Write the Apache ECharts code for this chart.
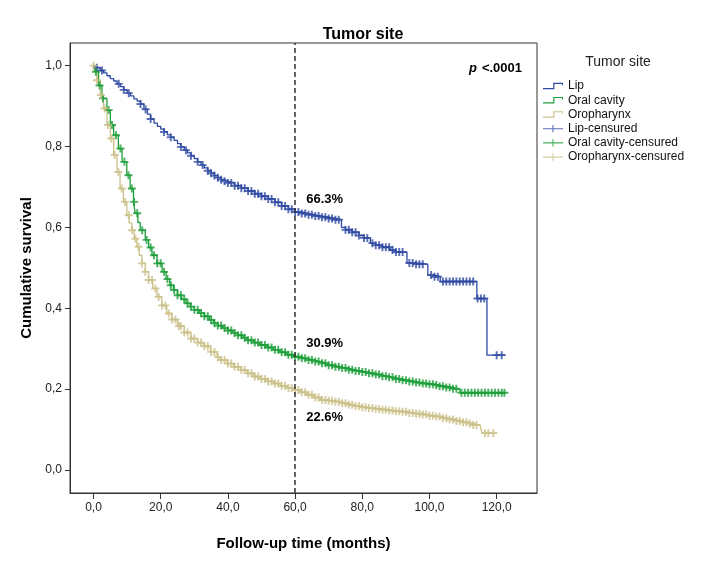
<!DOCTYPE html>
<html><head><meta charset="utf-8">
<script src="https://cdn.jsdelivr.net/npm/echarts@6/dist/echarts.min.js"></script>
<style>html,body{margin:0;padding:0;background:#fff}#c{width:708px;height:578px}</style>
</head><body><div id="c"></div>
<script>
// ---- data (months, cumulative survival) ----
const xTicks = [0, 20, 40, 60, 80, 100, 120];
const yTicks = [0, 0.2, 0.4, 0.6, 0.8, 1.0];

const lipCurve = [[0,1.0],[1,0.995],[2,0.988],[3,0.982],[4,0.975],[5,0.968],[6,0.962],[7,0.955],[8,0.948],[9,0.940],[10,0.932],[11,0.925],[12,0.918],[13,0.912],[14,0.905],[15,0.892],[16,0.880],[17,0.868],[18,0.858],[19,0.850],[20,0.843],[21,0.836],[22,0.829],[23,0.823],[24,0.815],[25,0.807],[26,0.799],[27,0.791],[28,0.784],[29,0.777],[30,0.770],[31,0.762],[32,0.754],[33,0.747],[34,0.740],[35,0.734],[36,0.728],[37,0.723],[38,0.718],[39,0.714],[40,0.710],[42,0.703],[44,0.697],[46,0.690],[48,0.683],[50,0.677],[52,0.670],[54,0.662],[56,0.653],[58,0.645],[60,0.638],[62,0.634],[64,0.631],[66,0.628],[68,0.625],[70,0.622],[72,0.619],[73.8,0.600],[75,0.594],[77,0.588],[79,0.580],[80.5,0.574],[82.4,0.561],[84,0.556],[86,0.551],[88.3,0.544],[90,0.539],[93.3,0.512],[96,0.509],[99.5,0.482],[101.5,0.478],[103.2,0.466],[114.1,0.424],[117.1,0.284],[122.5,0.284]];

const oralCurve = [[0,1.0],[0.5,0.985],[1.5,0.951],[2.5,0.919],[4,0.890],[5,0.853],[6,0.828],[7.4,0.795],[8.5,0.762],[9.9,0.729],[10.9,0.696],[11.9,0.663],[12.4,0.635],[13.2,0.612],[13.9,0.593],[15.4,0.569],[16.4,0.550],[17.4,0.531],[18.9,0.511],[20.4,0.490],[21.6,0.472],[22.7,0.457],[23.8,0.445],[25,0.432],[26.2,0.422],[27.5,0.412],[28.8,0.404],[30,0.396],[31.5,0.388],[33,0.380],[34.5,0.371],[35.7,0.363],[37,0.357],[38.5,0.351],[40,0.345],[41.5,0.339],[43,0.333],[44.5,0.327],[45.7,0.321],[47.5,0.315],[49.5,0.309],[51.5,0.303],[53.5,0.297],[55.5,0.291],[57.5,0.285],[59.5,0.280],[61.5,0.276],[63.5,0.272],[65.5,0.268],[67.5,0.264],[69.5,0.259],[71.4,0.255],[73.5,0.252],[75.5,0.248],[77.5,0.245],[79.5,0.242],[81.4,0.239],[83.5,0.236],[85.5,0.232],[87.5,0.229],[89.5,0.225],[91.3,0.222],[93.5,0.219],[95.5,0.216],[97.5,0.214],[99.5,0.212],[101.2,0.210],[103,0.207],[105,0.204],[107,0.201],[108.2,0.198],[109.1,0.191],[122.5,0.191]];

const oroCurve = [[0,1.0],[0.2,0.995],[1,0.964],[2,0.927],[3,0.894],[4,0.853],[5,0.820],[6,0.779],[7,0.737],[7.9,0.696],[8.9,0.663],[9.9,0.630],[10.6,0.611],[11.4,0.593],[12.1,0.572],[12.9,0.552],[13.6,0.531],[14.4,0.511],[15.4,0.490],[16.4,0.470],[17.6,0.449],[18.9,0.428],[20.3,0.407],[21.8,0.387],[23.3,0.372],[25,0.356],[27,0.340],[29,0.325],[31,0.315],[32.8,0.306],[34.8,0.292],[36.8,0.279],[37.7,0.272],[39.7,0.263],[41.7,0.255],[43.7,0.247],[45.7,0.239],[47.6,0.231],[49.6,0.225],[51.6,0.219],[53.6,0.214],[55.6,0.208],[57.6,0.203],[59.5,0.198],[61.5,0.192],[63.5,0.186],[65.5,0.179],[67.5,0.173],[69.5,0.171],[71.4,0.169],[73.5,0.165],[75.5,0.161],[77.5,0.158],[79.5,0.155],[81.4,0.153],[83.5,0.151],[85.5,0.149],[87.5,0.147],[89.5,0.145],[91.3,0.144],[93.5,0.141],[95.5,0.139],[97.5,0.137],[99.5,0.134],[101.2,0.132],[103.5,0.128],[105.5,0.125],[107.5,0.121],[109.5,0.118],[111.1,0.115],[113,0.111],[115.1,0.107],[115.6,0.091],[120.1,0.091]];

// censored times (months)
const lipCensored = [1,2.5,7.5,9,10.5,14,15.5,17,21,23,26,27.5,29,31,32.5,34,35,36,37,38,39,40,41,42,43,44,45,46,47,48,49,50,51,52,53,54,55,56,57,58,59,60,61,62,63,64,65,66,67,68,69,70,71,72,73,75,76,77,78,79,80.5,81.5,83,84,85,86,87,88,89,90,91,92,94,95,96,97,98,100.5,101.5,102.5,104,105,106,107,108,109,110,111,112,113,114.3,115.3,116.3,120,121.5];
const oralCensored = [0.7,1.8,2.8,4.5,5.5,6.7,8,9.2,10.4,11.4,12.1,13,14.5,15.8,17,18,19,20,21,22,23,24,25,26,27,28,29,30,31,32,33,34,35,36,37,38,39,40,41,42,43,44,45,46,47,48,49,50,51,52,53,54,55,56,57,58,59,60,61,62,63,64,65,66,67,68,69,70,71,72,73,74,75,76,77,78,79,80,81,82,83,84,85,86,87,88,89,90,91,92,93,94,95,96,97,98,99,100,101,102,103,104,105,106,107,108,109.5,110.5,111.5,112.5,113.5,114.5,115.5,116.5,117.5,118.5,119.5,120.5,121.5,122.3];
const oroCensored = [0,1,2.2,3.3,4.3,5.3,6.3,7.4,8.4,9.4,10.5,11.5,12.5,13.4,14.4,15.4,16.4,17.4,18.4,19.4,20.4,21.4,22.4,23.4,24.4,25.4,26,27,28,29,30,31,32,33,34,35,36,37,38,39,40,41,42,43,44,45,46,47,48,49,50,51,52,53,54,55,56,57,58,59,60,61,62,63,64,65,66,67,68,69,70,71,72,73,74,75,76,77,78,79,80,81,82,83,84,85,86,87,88,89,90,91,92,93,94,95,96,97,98,99,100,101,102,103,104,105,106,107,108,109,110,111,112,113,114,116.5,117.5,119];

const annotations = [
  { text: '66.3%', at: [63.3, 0.670] },
  { text: '30.9%', at: [63.3, 0.314] },
  { text: '22.6%', at: [63.3, 0.131] }
];

// ---- helpers ----
function survivalAt(curve, t) {
  let s = curve[0][1];
  for (const p of curve) { if (p[0] <= t + 1e-9) s = p[1]; else break; }
  return s;
}
const censorPts = (times, curve) => times.map(t => [t, survivalAt(curve, t)]);
const fmt = v => v.toFixed(1).replace('.', ',');

const FONT = "'Liberation Sans', Arial, sans-serif";
const C_LIP = '#2f4aa2', C_ORAL = '#1c9e38', C_ORO = '#cbc189';
const PLUS = 'path://M0,3.8H10V6.2H0Z M3.8,0H6.2V10H3.8Z';
const STEP_ICON = 'path://M0,6.3H10.5V0.8H20.5V3.4H19.5V2H11.7V7.5H0Z';
const CROSS_ICON = 'path://M0,3.5H22V4.7H0Z M10.4,0H11.6V8H10.4Z';

const chart = echarts.init(document.getElementById('c'), null, { renderer: 'canvas' });

function lineSeries(name, curve, color, extra) {
  return Object.assign({
    name, type: 'line', step: 'end', data: curve, showSymbol: false, symbol: 'none',
    lineStyle: { color, width: 1.3 }, itemStyle: { color }, z: 3, animation: false
  }, extra || {});
}
function censorSeries(name, pts, color) {
  return {
    name, type: 'scatter', data: pts, symbol: PLUS, symbolSize: 8,
    itemStyle: { color }, z: 4, animation: false
  };
}

chart.setOption({
  animation: false,
  textStyle: { fontFamily: FONT },
  title: [
    { text: 'Tumor site', left: 358, top: 22, textAlign: 'center',
      textStyle: { fontFamily: FONT, fontSize: 16, fontWeight: 'bold', color: '#000' } },
    { text: 'Tumor site', left: 613, top: 50, textAlign: 'center',
      textStyle: { fontFamily: FONT, fontSize: 14, fontWeight: 'normal', color: '#222' } },
    { text: '{i|p} {b|<.0001}', right: 181, top: 54,
      textStyle: { rich: {
        i: { fontFamily: FONT, fontSize: 13, fontStyle: 'italic', fontWeight: 'bold', color: '#000' },
        b: { fontFamily: FONT, fontSize: 13, fontWeight: 'bold', color: '#000' } } } }
  ],
  legend: {
    orient: 'vertical', left: 538, top: 75, itemWidth: 20, itemHeight: 8, itemGap: 2.2,
    textStyle: { fontFamily: FONT, fontSize: 12, color: '#111', lineHeight: 12 },
    data: [
      { name: 'Lip', icon: STEP_ICON },
      { name: 'Oral cavity', icon: STEP_ICON },
      { name: 'Oropharynx', icon: STEP_ICON },
      { name: 'Lip-censured', icon: CROSS_ICON },
      { name: 'Oral cavity-censured', icon: CROSS_ICON },
      { name: 'Oropharynx-censured', icon: CROSS_ICON }
    ],
    selectedMode: false
  },
  grid: { left: 70, top: 43, right: 171, bottom: 85, show: true, borderColor: '#333', borderWidth: 1, backgroundColor: '#fff' },
  xAxis: {
    type: 'value', min: -7, max: 132,
    name: 'Follow-up time (months)', nameLocation: 'middle', nameGap: 43,
    nameTextStyle: { fontFamily: FONT, fontSize: 15, fontWeight: 'bold', color: '#000' },
    axisLine: { show: true, onZero: false, lineStyle: { color: '#333', width: 1 } },
    axisTick: { show: true, length: 6, customValues: xTicks, lineStyle: { color: '#333' } },
    axisLabel: { customValues: xTicks, formatter: fmt, fontFamily: FONT, fontSize: 12, color: '#222', margin: 9 },
    splitLine: { show: false }
  },
  yAxis: {
    type: 'value', min: -0.057, max: 1.056,
    name: 'Cumulative survival', nameLocation: 'middle', nameGap: 35, nameRotate: 90,
    nameTextStyle: { fontFamily: FONT, fontSize: 15, fontWeight: 'bold', color: '#000' },
    axisLine: { show: true, onZero: false, lineStyle: { color: '#333', width: 1 } },
    axisTick: { show: true, length: 5, customValues: yTicks, lineStyle: { color: '#333' } },
    axisLabel: { customValues: yTicks, formatter: fmt, fontFamily: FONT, fontSize: 12, color: '#222', margin: 8 },
    splitLine: { show: false }
  },
  series: [
    lineSeries('Lip', lipCurve, C_LIP, {
      markLine: {
        silent: true, symbol: ['none', 'none'], label: { show: false },
        lineStyle: { type: [5, 3], color: '#333', width: 1.5 },
        data: [{ xAxis: 60 }]
      }
    }),
    lineSeries('Oral cavity', oralCurve, C_ORAL),
    lineSeries('Oropharynx', oroCurve, C_ORO, { z: 2 }),
    censorSeries('Lip-censured', censorPts(lipCensored, lipCurve), C_LIP),
    censorSeries('Oral cavity-censured', censorPts(oralCensored, oralCurve), C_ORAL),
    censorSeries('Oropharynx-censured', censorPts(oroCensored, oroCurve), C_ORO)
  ]
});

// annotation texts placed at data coordinates
chart.setOption({
  graphic: annotations.map(a => {
    const p = chart.convertToPixel({ gridIndex: 0 }, a.at);
    return {
      type: 'text', x: p[0], y: p[1], z: 100, silent: true,
      style: { text: a.text, fill: '#000', font: "bold 13px 'Liberation Sans', Arial, sans-serif",
        textAlign: 'left', textVerticalAlign: 'middle' }
    };
  })
});
</script></body></html>
